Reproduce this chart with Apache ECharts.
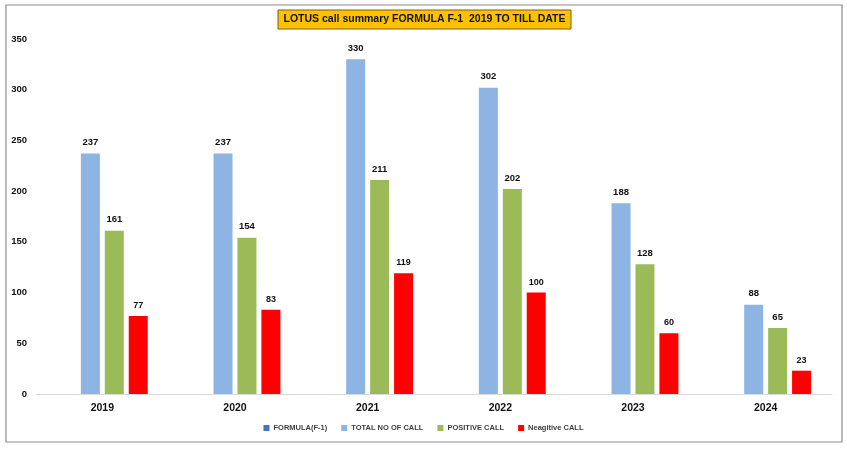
<!DOCTYPE html>
<html><head><meta charset="utf-8">
<script src="https://cdn.jsdelivr.net/npm/echarts@6/dist/echarts.min.js"></script>
<style>html,body{margin:0;padding:0;background:#fff}#c{width:847px;height:449px}</style>
</head><body><div id="c"></div>
<script>
const categories = ['2019','2020','2021','2022','2023','2024'];
const formulaF1 = ['-','-','-','-','-','-'];
const totalCalls = [237, 237, 330, 302, 188, 88];
const positiveCalls = [161, 154, 211, 202, 128, 65];
const negativeCalls = [77, 83, 119, 100, 60, 23];
const yTicks = [0, 50, 100, 150, 200, 250, 300, 350];

const chart = echarts.init(document.getElementById('c'));
const font = '"Liberation Sans", Arial, sans-serif';
const lbl = (size) => ({show: true, position: 'top', distance: 6, fontFamily: font, fontWeight: 'bold', fontSize: size, color: '#111'});
chart.setOption({
  animation: false,
  textStyle: {fontFamily: font},
  graphic: [
    {type: 'rect', shape: {x: 6, y: 5, width: 836, height: 437}, style: {fill: 'none', stroke: '#8c8c8c', lineWidth: 1.2}, z: -1},
    {type: 'rect', shape: {x: 278, y: 10, width: 293, height: 19}, style: {fill: '#FFC000', stroke: '#7f6000', lineWidth: 1}},
    {type: 'text', x: 424.5, y: 19.5, style: {text: 'LOTUS call summary FORMULA F-1  2019 TO TILL DATE', fill: '#111', font: 'bold 10.5px ' + font, textAlign: 'center', textVerticalAlign: 'middle'}}
  ],
  legend: {
    bottom: 12, left: 'center', itemWidth: 6, itemHeight: 6, itemGap: 14, icon: 'rect',
    textStyle: {fontFamily: font, fontSize: 7.5, fontWeight: 'bold', color: '#404040', padding: [0, 0, 0, -1]},
    data: ['FORMULA(F-1)', 'TOTAL NO OF CALL', 'POSITIVE CALL', 'Neagitive CALL']
  },
  grid: {left: 36, right: 15, top: 39, bottom: 55, containLabel: false},
  xAxis: {
    type: 'category', data: categories,
    axisLine: {lineStyle: {color: '#d9d9d9'}}, axisTick: {show: false},
    axisLabel: {fontFamily: font, fontWeight: 'bold', fontSize: 10.5, color: '#111', margin: 9}
  },
  yAxis: {
    type: 'value', min: 0, max: 350, interval: 50,
    axisLine: {show: false}, axisTick: {show: false}, splitLine: {show: false},
    axisLabel: {fontFamily: font, fontWeight: 'bold', fontSize: 9.5, color: '#111', margin: 9,
      formatter: v => yTicks.includes(v) ? String(v) : ''}
  },
  series: [
    {name: 'FORMULA(F-1)', type: 'bar', data: formulaF1, barWidth: 19, barGap: '26%', itemStyle: {color: '#4472C4'}},
    {name: 'TOTAL NO OF CALL', type: 'bar', data: totalCalls, barWidth: 19, barGap: '26%', itemStyle: {color: '#8DB4E2'}, label: lbl(9.5)},
    {name: 'POSITIVE CALL', type: 'bar', data: positiveCalls, barWidth: 19, barGap: '26%', itemStyle: {color: '#9BBB59'}, label: lbl(9.5)},
    {name: 'Neagitive CALL', type: 'bar', data: negativeCalls, barWidth: 19, barGap: '26%', itemStyle: {color: '#FF0000'}, label: lbl(9)}
  ]
});
</script></body></html>
